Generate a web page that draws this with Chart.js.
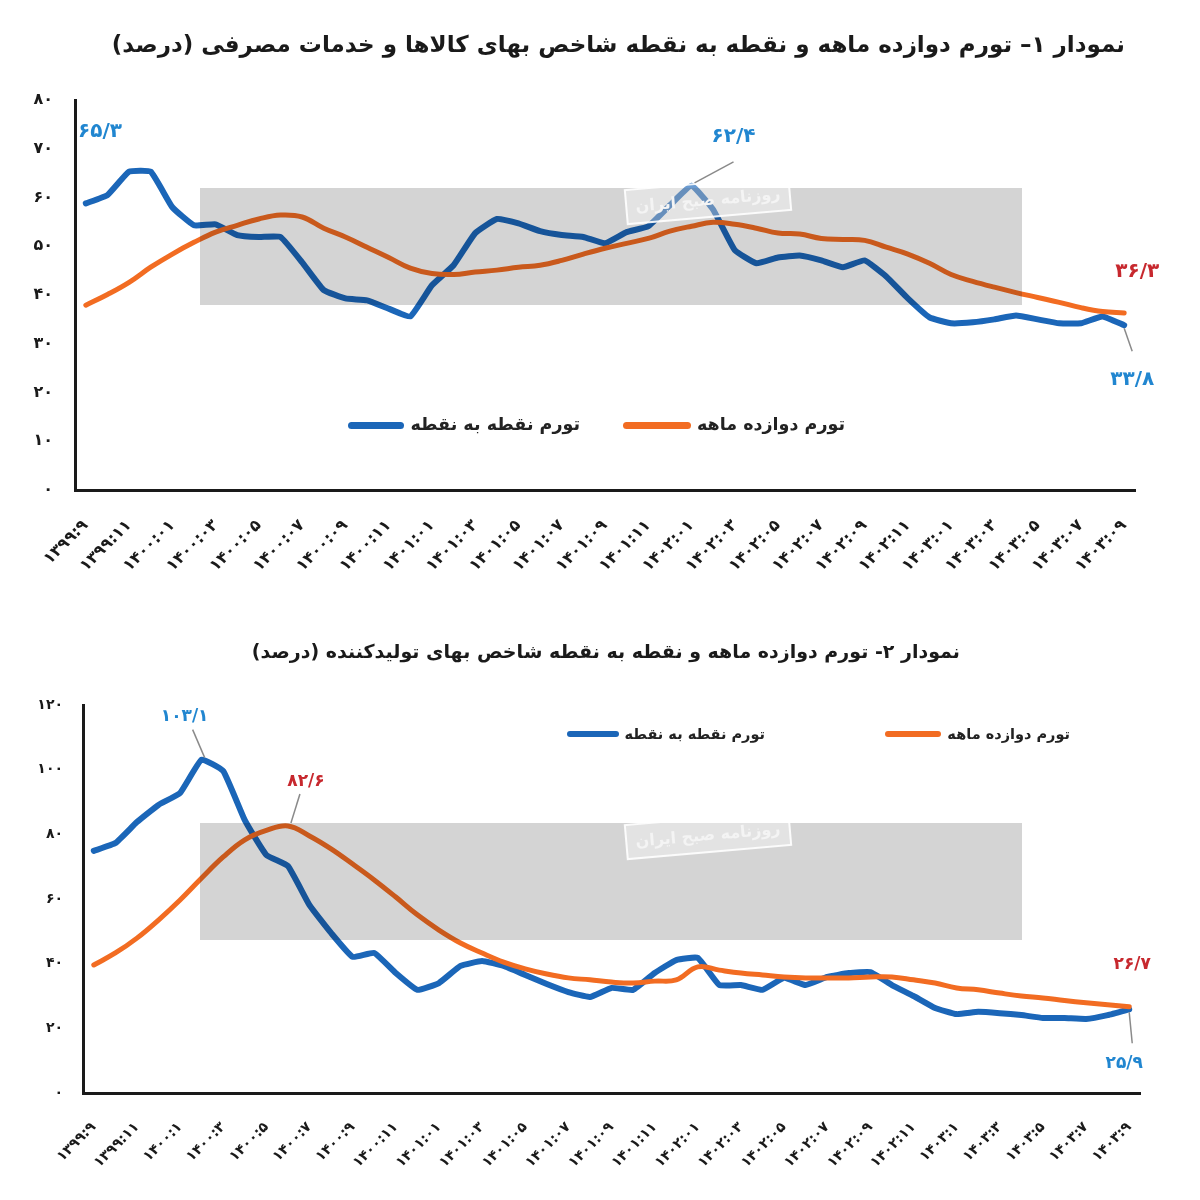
<!DOCTYPE html>
<html><head><meta charset="utf-8">
<script src="https://cdn.jsdelivr.net/npm/chart.js@4.4.1/dist/chart.umd.min.js"></script>
<style>
html,body{margin:0;padding:0;background:#fff;}
body{width:1200px;height:1200px;position:relative;overflow:hidden;font-family:"DejaVu Sans",sans-serif;}
.title{position:absolute;direction:rtl;font-weight:bold;color:#1a1a1a;white-space:nowrap;z-index:2;}
.item{position:absolute;display:flex;align-items:center;direction:ltr;z-index:2;}
.sw{display:inline-block;border-radius:4px;margin-right:6px;}
.lt{direction:rtl;font-weight:bold;color:#222;white-space:nowrap;line-height:1;}
canvas{position:absolute;left:0;}
</style></head>
<body>
<div class="title" id="t1" style="top:31px;right:75px;font-size:23px;"></div>
<div class="title" id="t2" style="top:640px;right:240px;font-size:19px;"></div>
<canvas id="c1" width="1200" height="600" style="top:0"></canvas>
<canvas id="c2" width="1200" height="600" style="top:600px"></canvas>

<div class="item" style="right:620px;top:414px;height:22px;"><span class="sw" id="l1b" style="width:56px;height:7px;"></span><span class="lt" id="l1bt" style="font-size:17.5px;"></span></div>
<div class="item" style="right:355px;top:414px;height:22px;"><span class="sw" id="l1o" style="width:68px;height:7px;"></span><span class="lt" id="l1ot" style="font-size:17.5px;"></span></div>

<div class="item" style="right:435px;top:724px;height:20px;"><span class="sw" id="l2b" style="width:52px;height:6px;"></span><span class="lt" id="l2bt" style="font-size:14.5px;"></span></div>
<div class="item" style="right:130px;top:724px;height:20px;"><span class="sw" id="l2o" style="width:56px;height:6px;"></span><span class="lt" id="l2ot" style="font-size:14.5px;"></span></div>

<script>
// ---------- data ----------
const title1 = 'نمودار ۱– تورم دوازده ماهه و نقطه به نقطه شاخص بهای کالاها و خدمات مصرفی (درصد)';
const title2 = 'نمودار ۲- تورم دوازده ماهه و نقطه به نقطه شاخص بهای تولیدکننده (درصد)';
const seriesPoint = 'تورم نقطه به نقطه';
const seriesTwelve = 'تورم دوازده ماهه';
const stampText = 'روزنامه صبح ایران';

// tick labels (every second month is labelled)
const xTicks1 = ['۱۳۹۹:۹','۱۳۹۹:۱۱','۱۴۰۰:۰۱','۱۴۰۰:۰۳','۱۴۰۰:۰۵','۱۴۰۰:۰۷','۱۴۰۰:۰۹','۱۴۰۰:۱۱',
  '۱۴۰۱:۰۱','۱۴۰۱:۰۳','۱۴۰۱:۰۵','۱۴۰۱:۰۷','۱۴۰۱:۰۹','۱۴۰۱:۱۱','۱۴۰۲:۰۱','۱۴۰۲:۰۳','۱۴۰۲:۰۵',
  '۱۴۰۲:۰۷','۱۴۰۲:۰۹','۱۴۰۲:۱۱','۱۴۰۳:۰۱','۱۴۰۳:۰۳','۱۴۰۳:۰۵','۱۴۰۳:۰۷','۱۴۰۳:۰۹'];
const xTicks2 = ['۱۳۹۹:۹','۱۳۹۹:۱۱','۱۴۰۰:۱','۱۴۰۰:۳','۱۴۰۰:۵','۱۴۰۰:۷','۱۴۰۰:۹','۱۴۰۰:۱۱',
  '۱۴۰۱:۰۱','۱۴۰۱:۰۳','۱۴۰۱:۰۵','۱۴۰۱:۰۷','۱۴۰۱:۰۹','۱۴۰۱:۱۱','۱۴۰۲:۰۱','۱۴۰۲:۰۳','۱۴۰۲:۰۵',
  '۱۴۰۲:۰۷','۱۴۰۲:۰۹','۱۴۰۲:۱۱','۱۴۰۳:۱','۱۴۰۳:۳','۱۴۰۳:۵','۱۴۰۳:۷','۱۴۰۳:۹'];

// CPI (chart 1), monthly 1399:09 .. 1403:09
const cpiPointToPoint = [58.8,60.5,65.3,65.3,58.0,54.3,54.5,52.3,51.9,51.9,
  46.7,41.0,39.3,38.9,37.2,35.6,42.0,46.1,52.7,55.6,
  54.7,53.1,52.3,51.9,50.6,52.9,54.1,58.4,62.4,57.5,
  49.2,46.5,47.7,48.1,47.1,45.7,47.1,43.8,39.3,35.4,
  34.2,34.4,35.0,35.8,35.0,34.2,34.2,35.6,33.8];
const cpiTwelveMonth = [37.9,40.1,42.6,45.7,48.4,50.8,52.9,54.3,55.6,56.4,
  56.0,53.7,51.9,49.8,47.7,45.5,44.4,44.2,44.7,45.1,
  45.7,46.1,47.1,48.4,49.6,50.6,51.6,53.1,54.1,54.9,
  54.5,53.7,52.7,52.5,51.6,51.4,51.2,49.8,48.4,46.5,
  44.2,42.8,41.6,40.5,39.5,38.5,37.4,36.6,36.3];

// PPI (chart 2), monthly 1399:09 .. 1403:09
const ppiPointToPoint = [74.9,77.3,83.8,89.1,92.8,103.1,99.6,84.4,73.6,70.2,
  58.1,49.5,42.1,43.3,37.1,31.9,34.0,39.3,40.8,39.3,
  36.5,33.7,31.2,29.7,32.5,31.9,37.1,41.1,41.8,33.4,
  33.4,31.9,35.6,33.4,35.9,37.1,37.4,33.4,30.0,26.3,
  24.4,25.1,24.7,24.1,23.2,23.2,22.9,24.1,25.9];
const ppiTwelveMonth = [39.6,43.3,47.9,53.5,59.7,66.5,73.0,78.3,81.2,82.6,
  79.5,75.5,70.8,65.9,60.6,55.1,50.4,46.4,43.3,40.5,
  38.4,36.8,35.6,35.0,34.3,34.0,34.6,35.0,39.0,38.0,
  37.1,36.5,35.9,35.6,35.6,35.6,35.9,35.9,35.0,34.0,
  32.5,31.9,30.9,30.0,29.4,28.6,27.9,27.3,26.7];

// ---------- helpers / styles ----------
const FONT = '"DejaVu Sans", sans-serif';
const BLUE = '#1b66b8';
const BLUE_TXT = '#2186d0';
const ORANGE = '#f26c22';
const RED_TXT = '#c7282e';
const fa = v => String(v).replace(/\d/g, d => '۰۱۲۳۴۵۶۷۸۹'[d]).replace('.', '/');

function monthLabels(ticks, n) {
  return Array.from({length: n}, (_, i) => (i % 2 === 0 ? ticks[i / 2] : ''));
}

document.getElementById('t1').textContent = title1;
document.getElementById('t2').textContent = title2;
['l1b','l2b'].forEach(id => document.getElementById(id).style.background = BLUE);
['l1o','l2o'].forEach(id => document.getElementById(id).style.background = ORANGE);
document.getElementById('l1bt').textContent = seriesPoint;
document.getElementById('l2bt').textContent = seriesPoint;
document.getElementById('l1ot').textContent = seriesTwelve;
document.getElementById('l2ot').textContent = seriesTwelve;

function overlay(band, stamp, annots, fontSize) {
  return {
    id: 'overlay',
    afterDatasetsDraw(chart) {
      const ctx = chart.ctx;
      ctx.save();
      // watermark band
      ctx.fillStyle = 'rgba(0,0,0,0.17)';
      ctx.fillRect(band.x, band.y, band.w, band.h);
      // stamp
      ctx.translate(stamp.x, stamp.y);
      ctx.rotate(-5 * Math.PI / 180);
      ctx.fillStyle = 'rgba(255,255,255,0.35)';
      ctx.fillRect(-82, -17, 164, 34);
      ctx.strokeStyle = 'rgba(255,255,255,0.9)';
      ctx.lineWidth = 2;
      ctx.strokeRect(-82, -17, 164, 34);
      ctx.fillStyle = '#f4f4f4';
      ctx.font = 'bold 16px ' + FONT;
      ctx.direction = 'rtl';
      ctx.textAlign = 'center';
      ctx.textBaseline = 'middle';
      ctx.fillText(stampText, 0, 1);
      ctx.direction = 'ltr';
      ctx.setTransform(1, 0, 0, 1, 0, 0);
      // value annotations
      annots.forEach(a => {
        const meta = chart.getDatasetMeta(a.ds);
        const el = meta.data[a.idx];
        const val = chart.data.datasets[a.ds].data[a.idx];
        if (a.leader) {
          ctx.strokeStyle = '#8a8a8a';
          ctx.lineWidth = 1.5;
          ctx.beginPath();
          ctx.moveTo(el.x + a.leader[0], el.y + a.leader[1]);
          ctx.lineTo(el.x + a.leader[2], el.y + a.leader[3]);
          ctx.stroke();
        }
        ctx.fillStyle = a.color;
        ctx.font = 'bold ' + fontSize + 'px ' + FONT;
        ctx.textAlign = 'center';
        ctx.textBaseline = 'middle';
        ctx.fillText(fa(val), el.x + a.dx, el.y + a.dy);
      });
      ctx.restore();
    }
  };
}

function build(canvasId, labels, point, twelve, o) {
  return new Chart(document.getElementById(canvasId), {
    type: 'line',
    data: {
      labels: labels,
      datasets: [
        {label: seriesTwelve, data: twelve, borderColor: ORANGE, backgroundColor: ORANGE,
         borderWidth: 5, tension: 0.4, pointRadius: 0, fill: false, borderCapStyle: 'round'},
        {label: seriesPoint, data: point, borderColor: BLUE, backgroundColor: BLUE,
         borderWidth: 6, tension: 0.12, pointRadius: 0, fill: false, borderCapStyle: 'round'}
      ]
    },
    options: {
      responsive: false,
      animation: false,
      events: [],
      layout: {padding: o.padding},
      plugins: {legend: {display: false}, tooltip: {enabled: false}, title: {display: false}},
      scales: {
        x: {
          offset: true,
          grid: {display: false, drawTicks: false},
          border: {display: true, color: '#1a1a1a', width: 3},
          ticks: {autoSkip: false, maxRotation: 45, minRotation: 45, padding: o.xPad,
                  color: '#1a1a1a', font: {family: FONT, weight: 'bold', size: o.xFont}},
          afterFit(s) { s.height = o.xHeight; }
        },
        y: {
          min: 0, max: o.yMax,
          grid: {display: false, drawTicks: false},
          border: {display: true, color: '#1a1a1a', width: 3},
          ticks: {stepSize: o.yStep, padding: o.yPad, color: '#1a1a1a',
                  font: {family: FONT, weight: 'bold', size: o.yFont},
                  callback: v => fa(v)},
          afterFit(s) { s.width = o.yWidth; }
        }
      }
    },
    plugins: [overlay(o.band, o.stamp, o.annots, o.annFont)]
  });
}

build('c1', monthLabels(xTicks1, cpiPointToPoint.length), cpiPointToPoint, cpiTwelveMonth, {
  padding: {top: 100, left: 20, right: 65, bottom: 0},
  xPad: 26, xFont: 16, xHeight: 110, yMax: 80, yStep: 10, yPad: 22, yFont: 16, yWidth: 55,
  band: {x: 200, y: 188, w: 822, h: 117},
  stamp: {x: 708, y: 200},
  annFont: 20,
  annots: [
    {ds: 1, idx: 2, color: BLUE_TXT, dx: -29, dy: -40},
    {ds: 1, idx: 28, color: BLUE_TXT, dx: 42, dy: -49, leader: [3, -3, 42, -24]},
    {ds: 0, idx: 48, color: RED_TXT, dx: 13, dy: -41},
    {ds: 1, idx: 48, color: BLUE_TXT, dx: 8, dy: 55, leader: [0, 3, 8, 26]}
  ]
});

build('c2', monthLabels(xTicks2, ppiPointToPoint.length), ppiPointToPoint, ppiTwelveMonth, {
  padding: {top: 105, left: 20, right: 60, bottom: 0},
  xPad: 26, xFont: 14, xHeight: 107, yMax: 120, yStep: 20, yPad: 20, yFont: 14, yWidth: 63,
  band: {x: 200, y: 223, w: 822, h: 117},
  stamp: {x: 708, y: 235},
  annFont: 17,
  annots: [
    {ds: 1, idx: 5, color: BLUE_TXT, dx: -17, dy: -43, leader: [3, -2, -9, -30]},
    {ds: 0, idx: 9, color: RED_TXT, dx: 18, dy: -44, leader: [3, -3, 12, -32]},
    {ds: 0, idx: 48, color: RED_TXT, dx: 3, dy: -42},
    {ds: 1, idx: 48, color: BLUE_TXT, dx: -5, dy: 54, leader: [0, 3, 3, 34]}
  ]
});
</script>
</body></html>
